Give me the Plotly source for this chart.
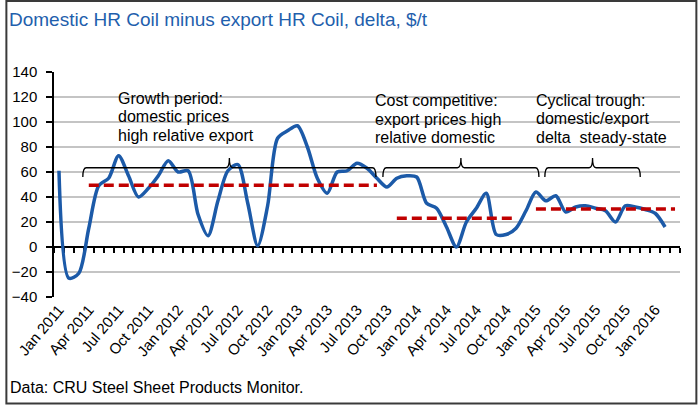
import plotly.graph_objects as go

# data
month_names = ["Jan", "Feb", "Mar", "Apr", "May", "Jun", "Jul", "Aug", "Sep", "Oct", "Nov", "Dec"]
months = [f"{m} {y}" for y in range(2011, 2017) for m in month_names][:63]   # Jan 2011 .. Mar 2016 (axis categories)

delta = [61, -25, -21, 15, 49, 55, 73, 57, 40, 47, 57, 69,      # 2011
         60, 61, 26, 9, 37, 61, 66, 35, 1, 33, 87, 93,          # 2012
         97, 80, 55, 43, 60, 61, 67, 63, 55, 48, 55, 57,        # 2013
         56, 35, 31, 16, 0, 20, 31, 43, 10, 10, 15, 29,         # 2014
         44, 37, 41, 28, 32, 33, 31, 29, 20, 33, 32, 30,        # 2015
         27, 16]                                                # 2016

# period averages (red dashed)
avg_from = ["Apr 2011", "Nov 2013", "Jan 2015"]
avg_to = ["Sep 2013", "Nov 2014", "Mar 2016"]
avg_value = [49.5, 23, 30.5]

# brackets over the periods (in month positions)
brace_from = [2.4, 32.6, 48.9]
brace_to = [31.9, 48.3, 58.5]

period_text = [["Growth period:", "domestic prices", "high relative export"],
               ["Cost competitive:", "export prices high", "relative domestic"],
               ["Cyclical trough:", "domestic/export", "delta  steady-state"]]

quarter_labels = [months[i] for i in range(0, 61, 3)]

# layout geometry
W, H = 698, 405
L, R, T, B = 49, 18, 72, 108
pw, ph = W - L - R, H - T - B


def px(x):
    return (x - L) / pw


def py(y):
    return (H - B - y) / ph


FONT = "Liberation Sans, Arial, sans-serif"
x_idx = list(range(len(delta)))

fig = go.Figure()

fig.add_trace(go.Scatter(x=x_idx, y=delta, mode="lines",
                         line=dict(color="#1c5aa8", width=3.5, shape="spline", smoothing=0.8),
                         hoverinfo="skip", showlegend=False))

for a, b, v in zip(avg_from, avg_to, avg_value):
    fig.add_trace(go.Scatter(x=[months.index(a), months.index(b)], y=[v, v], mode="lines",
                             line=dict(color="#c00000", width=3.5, dash="10px,5px"),
                             hoverinfo="skip", showlegend=False))

# zero line axis carrying the month ticks
fig.add_trace(go.Scatter(x=[0], y=[None], xaxis="x2", showlegend=False, hoverinfo="skip"))

# white boxes behind the text (hide gridlines)
for x0, x1 in [(103, 268), (362, 680)]:
    fig.add_shape(type="rect", xref="paper", yref="paper",
                  x0=px(x0), x1=px(x1), y0=py(128), y1=py(86),
                  fillcolor="white", line=dict(width=0), layer="between")

# braces
yb, ye, yt, r = 63.4, 56, 71.2, 0.35
for a, b in zip(brace_from, brace_to):
    c = (a + b) / 2
    path = (f"M {a},{ye} Q {a},{yb} {a + r},{yb} L {c - r},{yb} Q {c},{yb} {c},{yt} "
            f"Q {c},{yb} {c + r},{yb} L {b - r},{yb} Q {b},{yb} {b},{ye}")
    fig.add_shape(type="path", path=path, xref="x", yref="y",
                  line=dict(color="black", width=1.3))

# period texts
text_x = [112, 372, 534]
text_y = [[98.3, 116.7, 135], [100, 119, 137.7], [100, 118.5, 137]]
for tx, ys, lines in zip(text_x, text_y, period_text):
    for yy, line in zip(ys, lines):
        fig.add_annotation(x=px(tx), y=py(yy), xref="paper", yref="paper",
                           text=line, showarrow=False, xanchor="left", yanchor="middle",
                           font=dict(family=FONT, size=16, color="black"), borderpad=0)

# title and source
fig.add_annotation(x=px(3), y=py(19), xref="paper", yref="paper",
                   text="Domestic HR Coil minus export HR Coil, delta, $/t",
                   showarrow=False, xanchor="left", yanchor="middle", borderpad=0,
                   font=dict(family=FONT, size=19, color="#1f5fad"))
fig.add_annotation(x=px(4), y=py(387), xref="paper", yref="paper",
                   text="Data: CRU Steel Sheet Products Monitor.",
                   showarrow=False, xanchor="left", yanchor="middle", borderpad=0,
                   font=dict(family=FONT, size=16, color="black"))

# outer frame
fig.add_shape(type="rect", xref="paper", yref="paper",
              x0=px(1), x1=px(W - 1.5), y0=py(H - 1.5), y1=py(1),
              line=dict(color="#3a3a3a", width=2))

xr = [-0.5, len(months) - 0.5]
fig.update_layout(
    width=W, height=H,
    margin=dict(l=L, r=R, t=T, b=B),
    paper_bgcolor="white", plot_bgcolor="white",
    font=dict(family=FONT, color="black"),
    xaxis=dict(range=xr, tickvals=list(range(0, 61, 3)), ticktext=quarter_labels,
               tickangle=-50, tickfont=dict(size=15), showgrid=False, zeroline=False,
               showline=False, ticks=""),
    xaxis2=dict(range=xr, overlaying="x", anchor="free", position=40 / 180,
                showline=True, linecolor="black", linewidth=2, layer="below traces",
                tickmode="linear", tick0=-0.5, dtick=1, ticks="outside", ticklen=5,
                tickwidth=1.5, tickcolor="black", showticklabels=False,
                showgrid=False, zeroline=False),
    yaxis=dict(range=[-40, 140], dtick=20, showgrid=True, gridcolor="#c4c4c4", gridwidth=1.8,
               zeroline=False, showline=True, linecolor="black", linewidth=1.5,
               ticks="outside", ticklen=6, tickcolor="black", tickwidth=1.5,
               tickfont=dict(size=15), ticklabelstandoff=6),
)

fig.write_html("out.html", config={"displayModeBar": False},
               post_script="document.body.style.margin='0';")
